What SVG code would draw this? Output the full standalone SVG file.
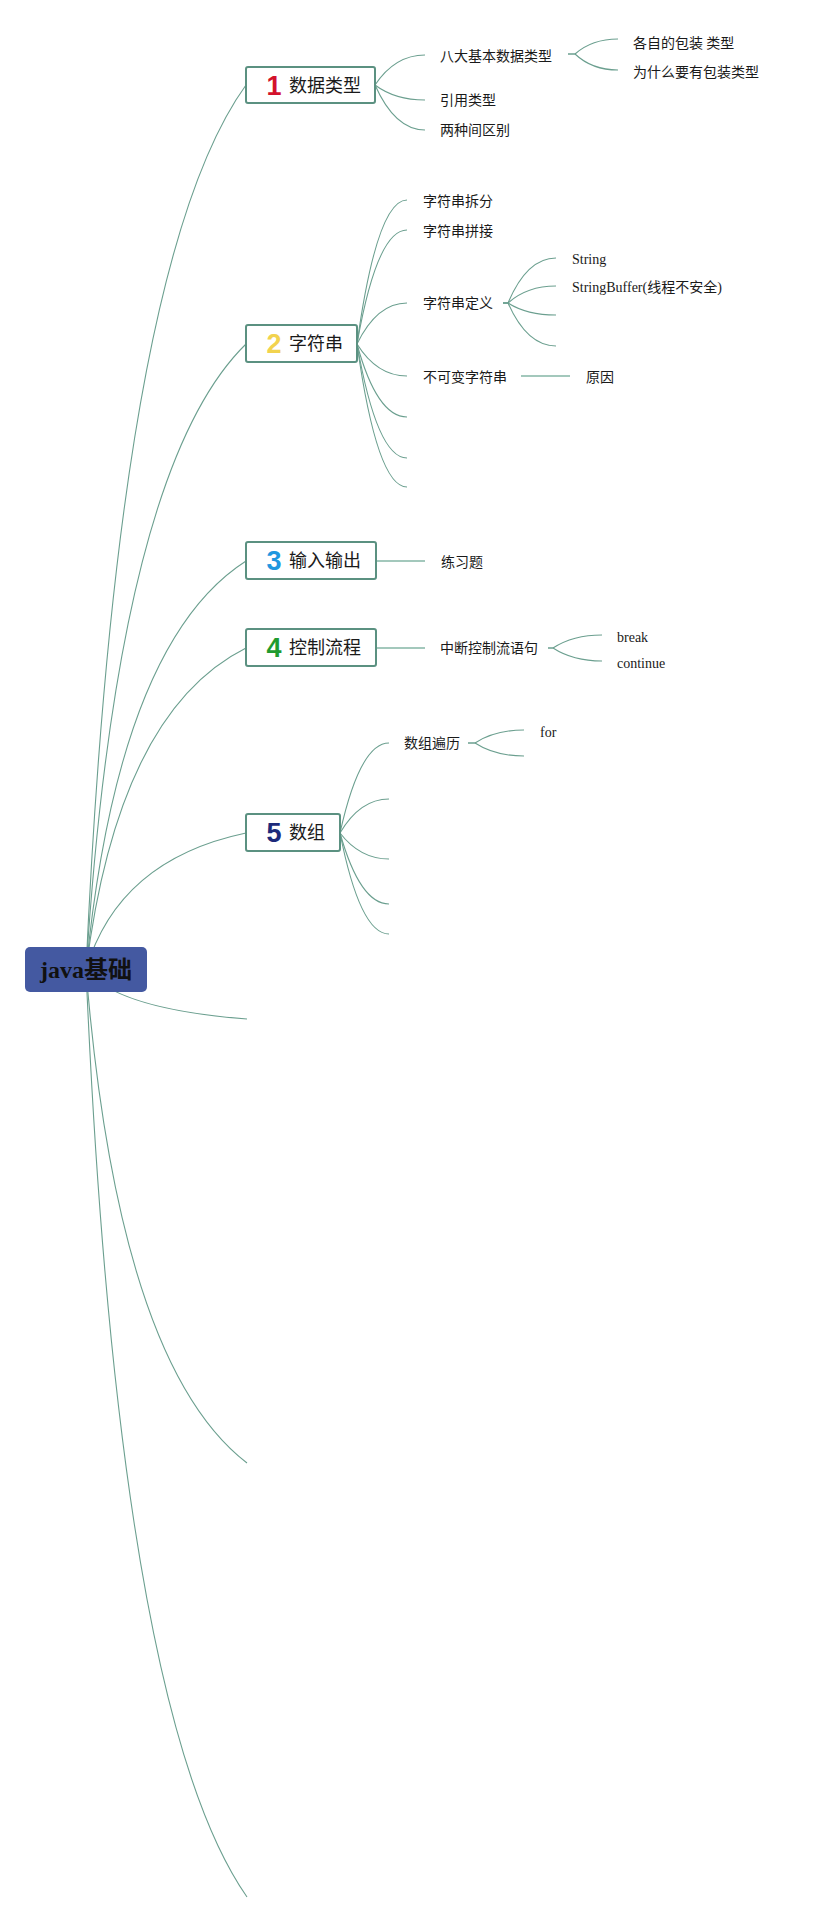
<svg xmlns="http://www.w3.org/2000/svg" width="819" height="1922" viewBox="0 0 819 1922">
<style>
.bg{fill:#ffffff}
.c{fill:none;stroke:#6b9f8f;stroke-width:1.1}
.s{fill:none;stroke:#a3c8bc;stroke-width:2.2}
.box{fill:#ffffff;stroke:#5b9181;stroke-width:2}
.root{fill:#4459a1}
.rt{font-family:"Liberation Serif","Noto Sans CJK SC",serif;font-weight:bold;font-size:24px;fill:#111111}
.num{font-family:"Liberation Sans","DejaVu Sans",sans-serif;font-weight:bold;font-size:27px}
.lab{font-family:"Noto Sans CJK SC","Noto Sans",sans-serif;font-size:18px;fill:#1a1a1a}
.t{font-family:"Noto Sans CJK SC","Noto Sans",sans-serif;font-size:14px;fill:#1a1a1a}
.e{font-family:"Liberation Serif","Noto Sans CJK SC",serif;font-size:14px;fill:#1a1a1a}
</style>
<rect class="bg" x="0" y="0" width="819" height="1922"/>
<g id="connectors">
<path class="c" d="M86 970 Q118 262 246 85"/>
<path class="c" d="M86 970 Q118 469 246 344"/>
<path class="c" d="M86 970 Q118 643 246 561"/>
<path class="c" d="M86 970 Q118 712 246 648"/>
<path class="c" d="M86 970 Q118 860 246 833"/>
<path class="c" d="M86 970 Q118 1009 247 1019"/>
<path class="c" d="M86 970 Q118 1364 247 1463"/>
<path class="c" d="M86 970 Q118 1712 247 1897"/>
<path class="c" d="M375 85 Q395 55 425 55"/>
<path class="c" d="M375 85 Q395 100 425 100"/>
<path class="c" d="M375 85 Q395 130 425 130"/>
<path class="c" d="M568 54 H575 Q592 39 618 39"/>
<path class="c" d="M568 54 H575 Q592 70 618 70"/>
<path class="c" d="M357 344 Q377 200 407 200"/>
<path class="c" d="M357 344 Q377 230 407 230"/>
<path class="c" d="M357 344 Q377 303 407 303"/>
<path class="c" d="M357 344 Q377 376 407 376"/>
<path class="c" d="M357 344 Q377 417 407 417"/>
<path class="c" d="M357 344 Q377 458 407 458"/>
<path class="c" d="M357 344 Q377 487 407 487"/>
<path class="c" d="M503 303 H508 Q527 258 556 258"/>
<path class="c" d="M503 303 H508 Q527 286 556 286"/>
<path class="c" d="M503 303 H508 Q527 315 556 315"/>
<path class="c" d="M503 303 H508 Q527 346 556 346"/>
<path class="s" d="M521 376 H570"/>
<path class="s" d="M377 561 H425"/>
<path class="s" d="M377 648 H425"/>
<path class="c" d="M548 648 H553 Q573 635 602 635"/>
<path class="c" d="M548 648 H553 Q573 661 602 661"/>
<path class="c" d="M340 833 Q360 743 389 743"/>
<path class="c" d="M340 833 Q360 799 389 799"/>
<path class="c" d="M340 833 Q360 859 389 859"/>
<path class="c" d="M340 833 Q360 904 389 904"/>
<path class="c" d="M340 833 Q360 934 389 934"/>
<path class="c" d="M468 743 H475 Q495 730 524 730"/>
<path class="c" d="M468 743 H475 Q495 756 524 756"/>
</g>
<g id="root">
<rect class="root" x="25" y="947" width="122" height="45" rx="5"/>
<text class="rt" x="86" y="978" text-anchor="middle">java基础</text>
</g>
<g id="n1">
<rect class="box" x="246" y="67" width="129" height="36" rx="2"/>
<text class="num" x="274" y="95" text-anchor="middle" fill="#d3122c">1</text>
<text class="lab" x="289" y="92">数据类型</text>
</g>
<g id="n1a"><text class="t" x="440" y="61">八大基本数据类型</text></g>
<g id="n1a1"><text class="t" x="633" y="48">各自的包装 类型</text></g>
<g id="n1a2"><text class="t" x="633" y="77">为什么要有包装类型</text></g>
<g id="n1b"><text class="t" x="440" y="105">引用类型</text></g>
<g id="n1c"><text class="t" x="440" y="135">两种间区别</text></g>
<g id="n2">
<rect class="box" x="246" y="325" width="111" height="37" rx="2"/>
<text class="num" x="274" y="353" text-anchor="middle" fill="#f2d34e">2</text>
<text class="lab" x="289" y="350">字符串</text>
</g>
<g id="n2a"><text class="t" x="423" y="206">字符串拆分</text></g>
<g id="n2b"><text class="t" x="423" y="236">字符串拼接</text></g>
<g id="n2c"><text class="t" x="423" y="308">字符串定义</text></g>
<g id="n2c1"><text class="e" x="572" y="264">String</text></g>
<g id="n2c2"><text class="e" x="572" y="292">StringBuffer(线程不安全)</text></g>
<g id="n2d"><text class="t" x="423" y="382">不可变字符串</text></g>
<g id="n2d1"><text class="t" x="586" y="382">原因</text></g>
<g id="n3">
<rect class="box" x="246" y="542" width="130" height="37" rx="2"/>
<text class="num" x="274" y="570" text-anchor="middle" fill="#1f97df">3</text>
<text class="lab" x="289" y="567">输入输出</text>
</g>
<g id="n3a"><text class="t" x="441" y="567">练习题</text></g>
<g id="n4">
<rect class="box" x="246" y="629" width="130" height="37" rx="2"/>
<text class="num" x="274" y="657" text-anchor="middle" fill="#1f9b30">4</text>
<text class="lab" x="289" y="654">控制流程</text>
</g>
<g id="n4a"><text class="t" x="440" y="653">中断控制流语句</text></g>
<g id="n4a1"><text class="e" x="617" y="642">break</text></g>
<g id="n4a2"><text class="e" x="617" y="668">continue</text></g>
<g id="n5">
<rect class="box" x="246" y="814" width="94" height="37" rx="2"/>
<text class="num" x="274" y="842" text-anchor="middle" fill="#1c2a7a">5</text>
<text class="lab" x="289" y="839">数组</text>
</g>
<g id="n5a"><text class="t" x="404" y="748">数组遍历</text></g>
<g id="n5a1"><text class="e" x="540" y="737">for</text></g>
</svg>
